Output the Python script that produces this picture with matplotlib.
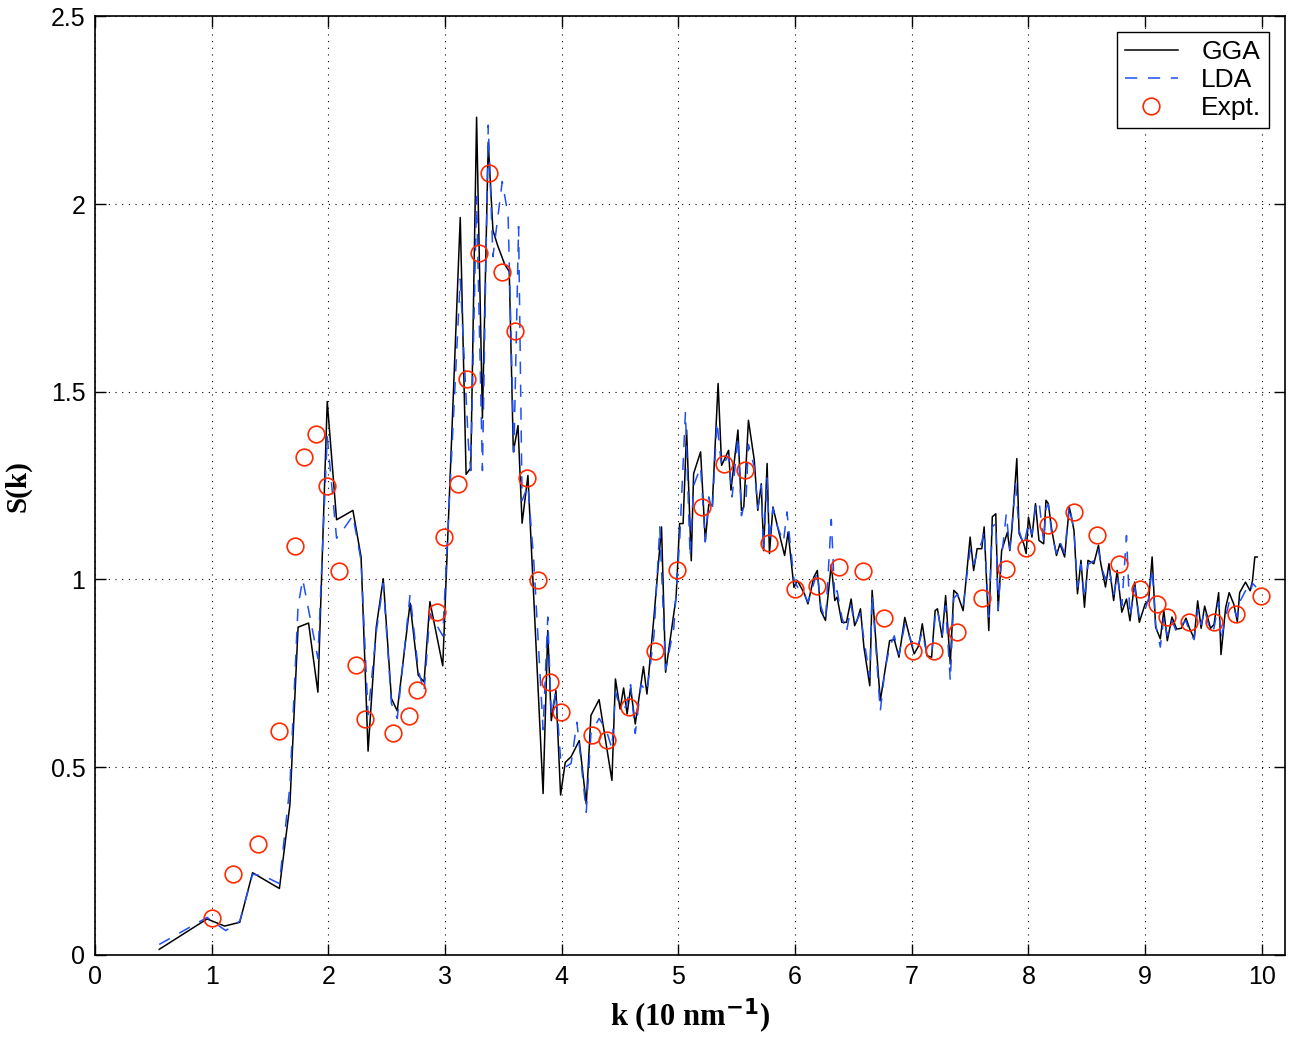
import numpy as np
import matplotlib
matplotlib.use('Agg')
import matplotlib.pyplot as plt

plt.rcParams['font.family'] = ['Liberation Sans', 'DejaVu Sans']

# GGA curve (k, S)
gga_k = [0.55, 0.96, 1.11, 1.24, 1.35, 1.58, 1.67, 1.74, 1.83, 1.91, 1.99, 2.07, 2.21, 2.28,
         2.34, 2.41, 2.47, 2.54, 2.59, 2.70, 2.77, 2.82, 2.87, 2.98, 3.13, 3.18, 3.22, 3.27,
         3.32, 3.37, 3.41, 3.45, 3.51, 3.55, 3.585, 3.625, 3.66, 3.71, 3.84, 3.88, 3.91, 3.95,
         3.99, 4.03, 4.08, 4.15, 4.21, 4.25, 4.32, 4.43, 4.46, 4.50, 4.53, 4.56, 4.59, 4.63,
         4.70, 4.73, 4.79, 4.855, 4.89, 4.98, 5.01, 5.04, 5.07, 5.11, 5.13, 5.19, 5.23, 5.26,
         5.29, 5.34, 5.37, 5.43, 5.45, 5.51, 5.54, 5.56, 5.60, 5.65, 5.68, 5.71, 5.73, 5.76,
         5.78, 5.81, 5.85, 5.91, 5.94, 5.99, 6.02, 6.08, 6.11, 6.16, 6.19, 6.22, 6.26, 6.31,
         6.34, 6.36, 6.40, 6.44, 6.48, 6.51, 6.53, 6.56, 6.59, 6.64, 6.66, 6.73, 6.77, 6.81,
         6.85, 6.89, 6.94, 6.99, 7.02, 7.06, 7.09, 7.13, 7.17, 7.20, 7.22, 7.26, 7.29, 7.33,
         7.36, 7.39, 7.44, 7.50, 7.53, 7.56, 7.60, 7.62, 7.66, 7.69, 7.72, 7.74, 7.77, 7.82,
         7.84, 7.86, 7.90, 7.92, 7.96, 7.98, 8.00, 8.03, 8.06, 8.09, 8.13, 8.15, 8.17, 8.20,
         8.24, 8.27, 8.31, 8.35, 8.39, 8.42, 8.45, 8.48, 8.51, 8.56, 8.60, 8.62, 8.66, 8.69,
         8.73, 8.76, 8.80, 8.84, 8.87, 8.91, 8.95, 9.00, 9.03, 9.06, 9.09, 9.13, 9.16, 9.19,
         9.23, 9.27, 9.31, 9.35, 9.38, 9.42, 9.45, 9.48, 9.51, 9.56, 9.59, 9.63, 9.65, 9.69,
         9.72, 9.76, 9.79, 9.81, 9.86, 9.90, 9.92, 9.94, 9.96]
gga_s = [0.015, 0.096, 0.077, 0.087, 0.219, 0.177, 0.40, 0.873, 0.884, 0.70, 1.474, 1.159, 1.184, 1.06,
         0.543, 0.873, 1.002, 0.683, 0.65, 0.937, 0.745, 0.727, 0.941, 0.77, 1.964, 1.28, 1.297, 2.231,
         1.43, 2.165, 1.93, 1.89, 1.84, 1.82, 1.34, 1.41, 1.15, 1.277, 0.43, 0.864, 0.624, 0.704,
         0.426, 0.513, 0.528, 0.571, 0.402, 0.638, 0.68, 0.465, 0.735, 0.655, 0.711, 0.642, 0.711, 0.615,
         0.768, 0.695, 0.90, 1.14, 0.753, 0.953, 1.149, 1.149, 1.398, 1.05, 1.282, 1.34, 1.104, 1.20,
         1.197, 1.522, 1.304, 1.344, 1.238, 1.398, 1.184, 1.193, 1.424, 1.318, 1.184, 1.255, 1.077, 1.309,
         1.069, 1.193, 1.14, 1.064, 1.126, 0.979, 0.997, 0.962, 0.935, 1.006, 1.024, 0.917, 0.891, 1.04,
         0.944, 0.953, 0.886, 0.886, 0.948, 0.877, 0.89, 0.922, 0.819, 0.717, 0.971, 0.677, 0.757, 0.837,
         0.84, 0.793, 0.899, 0.837, 0.802, 0.824, 0.882, 0.797, 0.793, 0.917, 0.922, 0.846, 0.957, 0.775,
         0.971, 0.962, 0.917, 1.113, 1.024, 1.082, 1.082, 1.14, 0.864, 1.167, 1.175, 0.917, 1.077, 1.126,
         1.077, 1.14, 1.322, 1.122, 1.095, 1.069, 1.166, 1.113, 1.202, 1.104, 1.095, 1.211, 1.202, 1.131,
         1.064, 1.095, 1.06, 1.193, 1.131, 0.962, 1.051, 0.926, 1.051, 1.042, 1.091, 1.042, 0.98, 1.042,
         0.944, 1.024, 0.913, 0.948, 0.89, 0.993, 0.886, 0.935, 0.944, 1.06, 0.873, 0.842, 0.917, 0.837,
         0.90, 0.868, 0.87, 0.897, 0.87, 0.843, 0.943, 0.87, 0.929, 0.87, 0.88, 0.965, 0.80, 0.925,
         0.965, 0.934, 0.888, 0.965, 0.993, 0.97, 0.997, 1.06, 1.06]

# LDA curve
lda_k = [0.55, 0.96, 1.12, 1.24, 1.35, 1.45, 1.58, 1.67, 1.74, 1.78, 1.91, 1.99, 2.07, 2.12,
         2.21, 2.28, 2.34, 2.41, 2.47, 2.54, 2.59, 2.70, 2.77, 2.82, 2.87, 2.98, 3.13, 3.20,
         3.22, 3.27, 3.32, 3.37, 3.41, 3.49, 3.54, 3.59, 3.63, 3.66, 3.71, 3.76, 3.84, 3.88,
         3.91, 3.95, 3.99, 4.03, 4.08, 4.13, 4.21, 4.25, 4.32, 4.38, 4.43, 4.46, 4.50, 4.55,
         4.59, 4.63, 4.68, 4.73, 4.79, 4.84, 4.89, 4.96, 5.01, 5.06, 5.10, 5.13, 5.19, 5.23,
         5.26, 5.29, 5.33, 5.37, 5.43, 5.46, 5.51, 5.54, 5.58, 5.60, 5.65, 5.68, 5.71, 5.73,
         5.76, 5.78, 5.81, 5.85, 5.90, 5.93, 5.99, 6.02, 6.08, 6.11, 6.16, 6.19, 6.22, 6.26,
         6.31, 6.34, 6.36, 6.40, 6.44, 6.48, 6.51, 6.56, 6.59, 6.64, 6.66, 6.73, 6.77, 6.81,
         6.85, 6.89, 6.94, 6.99, 7.02, 7.06, 7.09, 7.13, 7.17, 7.20, 7.22, 7.26, 7.29, 7.33,
         7.36, 7.39, 7.44, 7.50, 7.53, 7.56, 7.60, 7.62, 7.66, 7.69, 7.72, 7.74, 7.77, 7.81,
         7.84, 7.89, 7.92, 7.96, 8.00, 8.03, 8.06, 8.09, 8.13, 8.15, 8.17, 8.20, 8.24, 8.27,
         8.31, 8.35, 8.39, 8.42, 8.45, 8.48, 8.51, 8.56, 8.60, 8.62, 8.66, 8.69, 8.73, 8.76,
         8.80, 8.84, 8.87, 8.91, 8.95, 9.00, 9.03, 9.06, 9.09, 9.13, 9.16, 9.19, 9.23, 9.27,
         9.31, 9.35, 9.38, 9.42, 9.45, 9.48, 9.51, 9.56, 9.59, 9.63, 9.65, 9.69, 9.72, 9.76,
         9.79, 9.81, 9.86, 9.90, 9.92, 9.95]
lda_s = [0.028, 0.10, 0.065, 0.09, 0.215, 0.21, 0.19, 0.45, 0.93, 1.00, 0.79, 1.38, 1.11, 1.13,
         1.17, 1.05, 0.64, 0.86, 0.99, 0.67, 0.63, 0.96, 0.76, 0.70, 0.91, 0.85, 1.80, 1.36,
         1.29, 2.02, 1.29, 2.21, 1.86, 2.06, 1.97, 1.34, 1.94, 1.21, 1.25, 1.05, 0.60, 0.90,
         0.64, 0.70, 0.52, 0.50, 0.51, 0.62, 0.38, 0.59, 0.63, 0.60, 0.55, 0.70, 0.66, 0.66,
         0.72, 0.59, 0.72, 0.70, 0.85, 1.14, 0.76, 0.87, 1.10, 1.446, 1.06, 1.25, 1.30, 1.10,
         1.22, 1.18, 1.42, 1.30, 1.33, 1.22, 1.38, 1.17, 1.22, 1.36, 1.30, 1.19, 1.25, 1.08,
         1.27, 1.10, 1.19, 1.14, 1.10, 1.18, 1.00, 0.98, 0.96, 0.94, 0.99, 1.02, 0.93, 0.89,
         1.16, 0.95, 0.97, 0.90, 0.86, 0.93, 0.88, 0.91, 0.84, 0.74, 0.96, 0.65, 0.76, 0.82,
         0.85, 0.80, 0.88, 0.84, 0.81, 0.83, 0.86, 0.80, 0.80, 0.90, 0.92, 0.85, 0.93, 0.73,
         0.95, 0.96, 0.93, 1.08, 1.04, 1.07, 1.10, 1.13, 0.90, 1.14, 1.15, 0.92, 1.06, 1.175,
         1.08, 1.255, 1.13, 1.09, 1.15, 1.12, 1.19, 1.21, 1.10, 1.19, 1.20, 1.12, 1.07, 1.10,
         1.07, 1.20, 1.13, 0.98, 1.04, 0.95, 1.04, 1.05, 1.08, 1.04, 1.00, 1.03, 0.96, 1.01,
         0.93, 1.117, 0.90, 0.98, 0.90, 0.92, 0.95, 1.03, 0.88, 0.82, 0.90, 0.85, 0.89, 0.86,
         0.88, 0.89, 0.86, 0.84, 0.92, 0.88, 0.92, 0.86, 0.87, 0.94, 0.84, 0.90, 0.94, 0.92,
         0.90, 0.94, 0.97, 0.96, 0.99, 0.98]

# experimental points
expt_k = [1.0, 1.18, 1.40, 1.58, 1.71, 1.79, 1.89, 1.99, 2.09, 2.24, 2.31, 2.55, 2.69, 2.76,
          2.93, 2.99, 3.11, 3.19, 3.29, 3.38, 3.49, 3.60, 3.70, 3.80, 3.90, 3.99, 4.26, 4.39,
          4.58, 4.80, 4.99, 5.20, 5.39, 5.57, 5.78, 6.00, 6.19, 6.38, 6.58, 6.76, 7.01, 7.19,
          7.39, 7.60, 7.81, 7.98, 8.17, 8.39, 8.59, 8.78, 8.96, 9.10, 9.19, 9.38, 9.59, 9.78, 9.99]
expt_s = [0.098, 0.216, 0.296, 0.596, 1.089, 1.326, 1.387, 1.249, 1.022, 0.772, 0.628, 0.591, 0.636, 0.706,
          0.913, 1.113, 1.254, 1.534, 1.869, 2.082, 1.818, 1.661, 1.27, 0.998, 0.727, 0.647, 0.586, 0.572,
          0.66, 0.809, 1.025, 1.193, 1.307, 1.291, 1.097, 0.974, 0.982, 1.033, 1.022, 0.897, 0.809, 0.809,
          0.86, 0.95, 1.028, 1.084, 1.145, 1.179, 1.118, 1.041, 0.974, 0.935, 0.9, 0.887, 0.887, 0.908, 0.956]

fig = plt.figure(figsize=(12.95, 10.43), dpi=100)
ax = fig.add_axes([0.0734, 0.0844, 0.919, 0.900])

ax.plot(gga_k, gga_s, color='black', lw=1.1, label='GGA')
ax.plot(lda_k, lda_s, color='#1f4ff5', lw=1.1, ls=(0, (8, 7)), label='LDA')
ax.plot(expt_k, expt_s, ls='none', marker='o', ms=12, mfc='none', mec='#ff2a00', mew=1.2, label='Expt.')

ax.set_xlim(0, 10.2)
ax.set_ylim(0, 2.5)
ax.set_xticks(np.arange(0, 11, 1))
ax.set_yticks([0, 0.5, 1, 1.5, 2, 2.5])
ax.set_yticklabels(['0', '0.5', '1', '1.5', '2', '2.5'])
ax.tick_params(direction='in', length=8, width=1, labelsize=18, top=True, right=True, pad=7)
ax.grid(True, color='black', ls=(0, (1, 5)), lw=0.8)
for sp in ax.spines.values():
    sp.set_linewidth(1.2)

ax.set_xlabel('k (10 nm$^{\\mathbf{-1}}$)', fontfamily='Liberation Serif', fontweight='bold', fontsize=22, labelpad=6)
ax.set_ylabel('S(k)', fontfamily='Liberation Serif', fontweight='bold', fontsize=21, labelpad=14)

leg = ax.legend(loc='upper right', fontsize=19, fancybox=False, edgecolor='black',
                framealpha=1, borderpad=0.3, handlelength=2.0, labelspacing=0.15,
                borderaxespad=0.6, handletextpad=0.9)
leg.get_frame().set_linewidth(1.0)

fig.savefig('out.png', dpi=100)
